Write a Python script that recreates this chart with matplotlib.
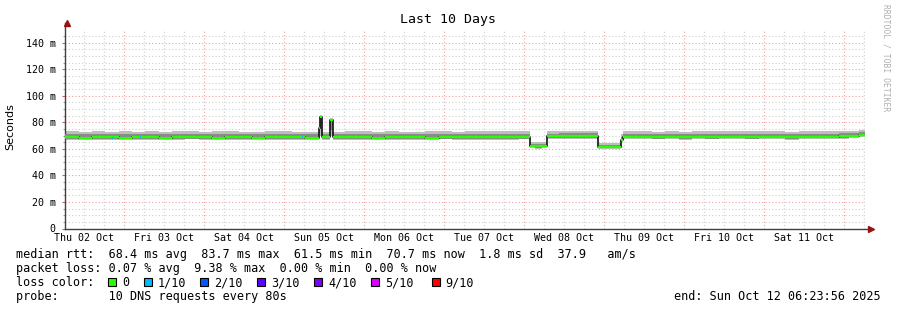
import matplotlib
matplotlib.use("Agg")
import matplotlib.pyplot as plt
import numpy as np
from matplotlib.patches import Rectangle

# hours since start of window (Thu 02 Oct 06:23:56), median rtt and smoke range (ms)
hours = [0, 4, 8, 12, 16, 20, 24, 28, 32, 36, 40, 44, 48, 52, 56, 60, 64, 68, 72,
         76.1, 76.5, 77.1, 79.5, 80.2, 84, 88, 92, 96, 100, 104, 108, 112, 116, 120,
         124, 128, 132, 136, 139.3, 141, 143, 144.4, 148, 152, 156, 159.7, 162, 164.5,
         166.7, 167.3, 172, 176, 180, 184, 188, 192, 196, 200, 204, 208, 212, 216, 220,
         224, 228, 232, 235, 238, 240]
median = [68.7, 68.5, 68.9, 68.6, 68.4, 68.8, 68.6, 68.5, 68.7, 68.9, 68.6, 68.4, 68.7,
          68.8, 68.5, 68.6, 68.9, 68.6, 68.5,
          75.5, 83.7, 68.8, 81.5, 68.9, 68.6, 68.7, 68.5, 68.8, 68.6, 68.7, 68.5, 68.9,
          68.6, 68.7, 68.8, 68.6, 68.7, 68.9, 62.4, 62.0, 62.3, 69.4, 69.6, 69.5, 69.6,
          61.7, 61.5, 61.6, 66.8, 69.0, 69.1, 68.9, 69.0, 68.8, 69.1, 68.9, 69.0, 69.2,
          68.9, 69.0, 69.1, 68.8, 69.0, 69.2, 69.1, 69.4, 70.1, 70.7, 70.7]
smoke_lo = [66.9, 66.8, 67.0, 66.7, 66.6, 66.9, 66.8, 66.7, 66.8, 67.1, 66.8, 66.6, 66.9,
            67.0, 66.7, 66.8, 67.0, 66.8, 66.7,
            67.8, 69.5, 67.0, 69.5, 66.9, 66.8, 66.9, 66.7, 67.0, 66.8, 66.9, 66.7, 67.1,
            66.8, 66.9, 67.0, 66.8, 66.9, 67.1, 60.6, 60.3, 60.6, 67.6, 67.8, 67.7, 67.7,
            59.9, 59.8, 59.9, 65.0, 67.2, 67.3, 67.1, 67.2, 67.0, 67.3, 67.1, 67.2, 67.4,
            67.1, 67.2, 67.3, 67.0, 67.2, 67.4, 67.3, 67.6, 68.2, 68.8, 68.8]
smoke_hi = [73.2, 72.9, 73.4, 73.0, 73.3, 73.1, 73.5, 72.8, 73.2, 73.6, 73.0, 73.3, 73.4,
            73.1, 72.9, 73.2, 73.5, 73.0, 73.1,
            77.5, 85.2, 72.9, 83.2, 73.0, 73.2, 73.3, 73.0, 73.4, 73.1, 72.9, 73.2, 73.5,
            73.1, 73.3, 73.6, 73.2, 73.4, 73.7, 65.2, 64.9, 65.3, 73.4, 73.7, 73.5, 73.6,
            64.6, 64.4, 64.7, 70.9, 73.2, 73.4, 73.1, 73.3, 73.0, 73.4, 73.2, 73.3, 73.5,
            73.2, 73.3, 73.4, 73.1, 73.3, 73.5, 73.4, 73.6, 73.8, 74.0, 74.0]

# short stretches with 1/10 loss
loss_hours = [14.0, 22.4, 32.3, 70.9]
loss_vals = [68.5, 68.6, 68.4, 68.6]

day_labels = ["Thu 02 Oct", "Fri 03 Oct", "Sat 04 Oct", "Sun 05 Oct", "Mon 06 Oct",
              "Tue 07 Oct", "Wed 08 Oct", "Thu 09 Oct", "Fri 10 Oct", "Sat 11 Oct"]
first_midnight = 17.601  # hours from start to Fri 03 Oct 00:00

legend_rtt = "median rtt:  68.4 ms avg  83.7 ms max  61.5 ms min  70.7 ms now  1.8 ms sd  37.9   am/s"
legend_loss = "packet loss: 0.07 % avg  9.38 % max  0.00 % min  0.00 % now"
loss_names = ["0", "1/10", "2/10", "3/10", "4/10", "5/10", "9/10"]
loss_colors = ["#26ff00", "#00b8ff", "#0059ff", "#5e00ff", "#7e00ff", "#dd00ff", "#ff0000"]

W, H = 897, 310
mono = "DejaVu Sans Mono"

fig = plt.figure(figsize=(W / 100, H / 100), dpi=100)
fig.patch.set_facecolor("white")
x0, x1, y0, y1 = 65.3, 865.3, 228.5, 29.5
ax = fig.add_axes([x0 / W, 1 - y0 / H, (x1 - x0) / W, (y0 - y1) / H])
ax.set_xlim(0, 240)
ax.set_ylim(0, 150)

# grid
for v in np.arange(5, 150, 5):
    col = "#f0a0a0" if v % 20 == 0 else "#d0d0d0"
    ax.axhline(v, color=col, lw=0.8, ls=(0, (1, 2)), zorder=0)
for h in np.arange(first_midnight - 12, 240, 6):
    if h <= 0:
        continue
    is_day = abs((h - first_midnight) % 24) < 1e-6
    ax.axvline(h, color="#f0a0a0" if is_day else "#d0d0d0", lw=0.8,
               ls=(0, (1, 2)), zorder=0)

# smoke
t = np.array(hours)
med = np.array(median)
lo = np.array(smoke_lo)
hi = np.array(smoke_hi)
ax.fill_between(t, lo, hi, step="post", color="#bdbdbd", lw=0, zorder=2)
ax.fill_between(t, lo + (med - lo) * 0.4, med + (hi - med) * 0.55, step="post",
                color="#8a8a8a", lw=0, zorder=3)

# median line
ax.plot(t, med, drawstyle="steps-post", color="#111111", lw=1.2, zorder=4)
ax.hlines(med[:-1], t[:-1], t[1:], color=loss_colors[0], lw=1.6, zorder=5)
ax.hlines(loss_vals, np.array(loss_hours), np.array(loss_hours) + 0.35,
          color=loss_colors[1], lw=1.6, zorder=6)

# axes, ticks
for s in ax.spines.values():
    s.set_visible(False)
ax.plot([0, 0], [0, 1.035], transform=ax.transAxes, color="#404040", lw=1, clip_on=False)
ax.plot([0, 1.006], [0, 0], transform=ax.transAxes, color="#404040", lw=1, clip_on=False)
ax.plot([0.0015], [1.035], marker="^", ms=4, color="#991111", transform=ax.transAxes, clip_on=False)
ax.plot([1.0075], [0], marker=">", ms=4, color="#991111", transform=ax.transAxes, clip_on=False)

yt = np.arange(0, 141, 20)
ax.set_yticks(yt)
ax.set_yticklabels(["0"] + ["%d m" % v for v in yt[1:]], fontfamily=mono, fontsize=7.2)
ax.set_yticks(np.arange(0, 150, 5), minor=True)
ax.tick_params(axis="y", which="major", length=2.5, width=0.8, color="#d06060", pad=4.5)
ax.tick_params(axis="y", which="minor", length=1.5, width=0.8, color="#a0a0a0")

noon = [first_midnight - 12 + 24 * i for i in range(len(day_labels))]
ax.set_xticks(noon)
ax.set_xticklabels(day_labels, fontfamily=mono, fontsize=7.2)
ax.tick_params(axis="x", length=0, pad=3.5)

ax.set_ylabel("Seconds", fontsize=8, labelpad=14)
ax.yaxis.set_label_coords(-0.063, 0.51)
fig.text(448 / W, 1 - 19 / H, "Last 10 Days", ha="center", va="center",
         fontfamily=mono, fontsize=9.5)
fig.text(886 / W, 1 - 4 / H, "RRDTOOL / TOBI OETIKER", ha="center", va="top",
         rotation=270, fontfamily=mono, fontsize=5.8, color="#b0b0b0")

# legend
lx = 16 / W
cw = 7.1
fig.text(lx, 1 - 254.5 / H, legend_rtt, va="center", fontfamily=mono, fontsize=8.5)
fig.text(lx, 1 - 268.5 / H, legend_loss, va="center", fontfamily=mono, fontsize=8.5)
fig.text(lx, 1 - 282.5 / H, "loss color:", va="center", fontfamily=mono, fontsize=8.5)
fig.text(lx, 1 - 296.5 / H, "probe:       10 DNS requests every 80s", va="center",
         fontfamily=mono, fontsize=8.5)
fig.text(881 / W, 1 - 296.5 / H, "end: Sun Oct 12 06:23:56 2025", ha="right",
         va="center", fontfamily=mono, fontsize=8.5)

px = 108.0
for name, col in zip(loss_names, loss_colors):
    fig.add_artist(Rectangle((px / W, 1 - 286 / H), 8 / W, 8 / H, transform=fig.transFigure,
                             facecolor=col, edgecolor="black", lw=0.8))
    fig.text((px + 2 * cw) / W, 1 - 282.5 / H, name, va="center", fontfamily=mono, fontsize=8.5)
    px += cw * (len(name) + 4)
    if name == "5/10":
        px += 4

fig.savefig("out.png", dpi=100)
